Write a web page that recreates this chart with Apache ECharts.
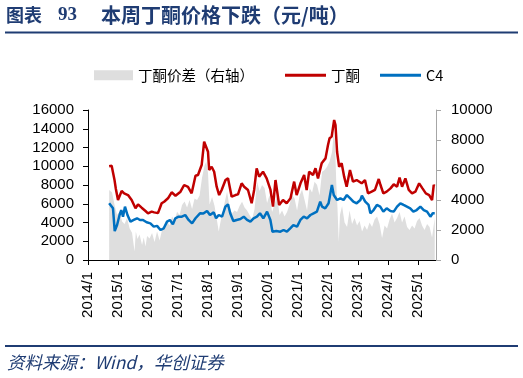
<!DOCTYPE html>
<html>
<head>
<meta charset="utf-8">
<script src="https://cdn.jsdelivr.net/npm/echarts@6/dist/echarts.min.js"></script>
<style>
html,body{margin:0;padding:0;background:#fff;}
#chart{width:523px;height:378px;}
</style>
</head>
<body>
<div id="chart"></div>
<script>
// ---- Data ----
const yearTicks = [2014,2015,2016,2017,2018,2019,2020,2021,2022,2023,2024,2025];

const ketoneDates = ['2014-09-15','2014-10-15','2014-11-01','2014-11-20','2014-12-05','2015-01-01','2015-02-15','2015-03-15','2015-05-01','2015-06-15','2015-08-01','2015-09-01','2015-10-15','2015-12-01','2016-01-01','2016-02-15','2016-03-15','2016-05-01','2016-06-15','2016-07-15','2016-09-01','2016-10-15','2016-12-01','2017-02-01','2017-03-15','2017-05-01','2017-06-15','2017-08-01','2017-09-01','2017-10-15','2017-11-15','2017-12-01','2018-01-01','2018-01-15','2018-02-15','2018-03-15','2018-04-15','2018-05-15','2018-06-15','2018-08-01','2018-09-01','2018-10-15','2018-12-01','2019-01-01','2019-02-15','2019-03-15','2019-05-01','2019-06-15','2019-07-15','2019-08-15','2019-09-15','2019-11-01','2019-12-15','2020-02-01','2020-03-01','2020-04-01','2020-05-15','2020-07-01','2020-08-15','2020-10-01','2020-11-15','2020-12-15','2021-02-01','2021-03-15','2021-04-15','2021-05-15','2021-07-01','2021-08-01','2021-09-01','2021-10-15','2021-12-01','2022-01-01','2022-01-20','2022-02-15','2022-03-15','2022-04-01','2022-04-20','2022-05-15','2022-06-15','2022-07-15','2022-08-15','2022-09-25','2022-11-01','2022-12-15','2023-02-15','2023-03-25','2023-05-01','2023-06-15','2023-07-25','2023-09-10','2023-10-01','2023-11-05','2023-12-15','2024-02-01','2024-03-10','2024-04-20','2024-05-20','2024-06-20','2024-07-30','2024-09-10','2024-10-20','2024-11-30','2025-01-15','2025-02-25','2025-04-05','2025-05-15','2025-06-20','2025-07-10','2025-07-20'];
const ketoneValues = [10000,10050,9950,8500,7600,6400,7360,7110,6930,6400,5510,5940,5580,5230,4980,5160,5080,5000,6050,6220,6580,7220,6860,7290,8000,7800,7110,8990,9070,10130,12620,12800,11550,9600,9950,9420,7820,6930,7470,8530,8710,6750,6930,7000,8180,7820,7470,6050,7470,9780,8890,9420,8710,7470,5690,8530,5870,6400,6050,6580,8360,6930,8180,9070,7470,9420,9070,9780,8710,10310,10840,12270,12980,13160,14930,14400,11550,9950,10310,8890,7820,9600,8360,8530,8180,8530,7110,7290,7470,8640,8000,7110,7290,7640,8070,7820,8780,7820,8710,7470,7110,7290,8180,7640,7110,6930,6400,8000,7900];

const c4Dates = ['2014-09-15','2014-11-01','2014-11-22','2014-12-20','2015-01-20','2015-02-10','2015-03-01','2015-03-25','2015-04-25','2015-06-01','2015-07-10','2015-08-20','2015-09-25','2015-11-01','2015-12-15','2016-01-30','2016-03-10','2016-04-20','2016-06-01','2016-07-10','2016-08-20','2016-09-25','2016-10-30','2016-11-30','2017-01-08','2017-02-18','2017-03-28','2017-05-08','2017-06-20','2017-08-01','2017-09-25','2017-11-05','2017-12-20','2018-01-25','2018-03-10','2018-04-08','2018-05-10','2018-06-20','2018-07-30','2018-09-01','2018-09-28','2018-11-05','2018-12-15','2019-01-30','2019-03-10','2019-04-20','2019-05-30','2019-07-08','2019-08-18','2019-09-25','2019-11-05','2019-12-20','2020-01-30','2020-02-25','2020-03-10','2020-04-10','2020-05-30','2020-07-08','2020-08-18','2020-09-28','2020-11-05','2020-12-20','2021-01-30','2021-03-10','2021-04-20','2021-05-30','2021-07-08','2021-08-18','2021-09-28','2021-10-20','2021-11-28','2022-01-08','2022-02-18','2022-03-10','2022-04-20','2022-05-30','2022-07-08','2022-08-18','2022-09-28','2022-11-05','2022-12-15','2023-01-30','2023-02-18','2023-03-28','2023-05-08','2023-05-30','2023-07-08','2023-08-18','2023-09-28','2023-11-05','2023-12-15','2024-01-30','2024-03-10','2024-04-20','2024-05-30','2024-07-08','2024-08-18','2024-09-28','2024-11-05','2024-12-15','2025-01-30','2025-03-10','2025-04-20','2025-05-30','2025-06-28','2025-07-22'];
const c4Values = [6050,5510,3090,3730,4800,5330,4620,5690,4800,4090,4270,4450,4270,4270,4020,3910,3560,3640,3200,3380,4090,4270,3800,4450,4620,4620,4800,4270,3910,4450,4980,4950,5230,4800,5080,4450,4800,4620,5690,5940,4980,4160,4270,4370,4620,4270,4090,4450,4620,4980,4450,5160,4270,3020,2840,3090,3020,3200,3020,3380,3730,3560,4270,4620,4450,4800,4980,5160,6220,5690,5510,6050,8000,6930,6400,6580,6400,6930,6580,6220,6050,6400,6860,6220,5870,4980,5330,5870,5690,5160,5510,5230,5160,5690,6050,5870,5690,5510,5160,5330,5690,5330,5160,4620,4980,4980];

const spreadDates = ['2014-09-15','2014-10-20','2014-11-20','2014-12-20','2015-01-20','2015-02-20','2015-03-20','2015-04-20','2015-05-20','2015-06-20','2015-07-20','2015-08-05','2015-08-25','2015-09-20','2015-10-20','2015-11-10','2015-12-01','2015-12-20','2016-01-20','2016-02-20','2016-03-20','2016-04-20','2016-05-20','2016-06-20','2016-07-20','2016-08-20','2016-09-20','2016-10-20','2016-11-20','2016-12-20','2017-01-20','2017-02-20','2017-03-20','2017-04-20','2017-05-20','2017-06-20','2017-07-20','2017-08-20','2017-09-20','2017-10-20','2017-11-20','2017-12-10','2018-01-01','2018-01-20','2018-02-20','2018-03-20','2018-04-20','2018-05-10','2018-05-30','2018-06-20','2018-07-20','2018-08-20','2018-09-20','2018-10-20','2018-11-20','2018-12-20','2019-01-20','2019-02-20','2019-03-20','2019-04-20','2019-05-20','2019-06-20','2019-07-20','2019-08-20','2019-09-20','2019-10-20','2019-11-20','2019-12-20','2020-01-20','2020-02-20','2020-03-20','2020-04-20','2020-05-20','2020-06-20','2020-07-20','2020-08-20','2020-09-20','2020-10-20','2020-11-20','2020-12-20','2021-01-20','2021-02-20','2021-03-20','2021-04-20','2021-05-20','2021-06-20','2021-07-20','2021-08-20','2021-09-20','2021-10-20','2021-11-20','2021-12-20','2022-01-20','2022-02-20','2022-03-10','2022-03-25','2022-04-10','2022-04-25','2022-05-10','2022-05-25','2022-06-20','2022-07-20','2022-08-20','2022-09-20','2022-10-20','2022-11-20','2022-12-20','2023-01-20','2023-02-20','2023-03-20','2023-04-20','2023-05-20','2023-06-20','2023-07-20','2023-08-20','2023-09-20','2023-10-20','2023-11-20','2023-12-20','2024-01-20','2024-02-20','2024-03-20','2024-04-20','2024-05-20','2024-06-20','2024-07-20','2024-08-20','2024-09-20','2024-10-20','2024-11-20','2024-12-20','2025-01-20','2025-02-20','2025-03-20','2025-04-20','2025-05-20','2025-06-20','2025-07-22'];
const spreadValues = [4670,4500,3670,3000,3220,2560,2400,2800,2110,1800,560,1900,1400,1700,1000,1500,900,1600,1440,1800,1200,1900,1300,2000,2300,2560,2300,2900,2600,3220,3000,3670,3900,3500,4000,3400,4100,4000,4300,5500,6300,6550,5800,3700,4200,3600,2600,1900,2500,3000,3800,4550,3500,3100,3300,3200,3600,3890,3500,3300,3000,2700,3400,5220,4600,5000,4800,3800,4330,3200,3700,4300,3000,3300,2900,3200,3700,4330,4100,3300,4300,4700,4000,3300,4800,4500,5220,5000,4300,5890,6000,6220,6560,7200,8500,7900,5200,3500,1200,3000,3600,2500,2200,3300,2400,2800,2300,2600,1900,2300,2000,2500,2200,2700,2900,2400,1470,2300,2100,2700,3100,2500,2800,3200,2500,2900,2200,2000,2300,2100,2600,2800,2300,2000,2400,2200,1500,2800];

// ---- helpers ----
function toYear(s){
  const p = s.split('-').map(Number);
  return p[0] + (p[1]-1)/12 + (p[2]-1)/365;
}
function pairs(dates, vals){ return dates.map((d,i)=>[toYear(d), vals[i]]); }

const navy = '#1F3C73';
const chart = echarts.init(document.getElementById('chart'), null, {renderer:'canvas'});
const labelFont = {fontFamily:'Liberation Sans, Arial', fontSize:15, color:'#000'};

chart.setOption({
  animation:false,
  backgroundColor:'#fff',
  graphic:[
    {type:'text', left:6, top:6, style:{text:'图表', font:'bold 18px "Noto Sans CJK SC"', fill:navy}},
    {type:'text', left:58, top:6, style:{text:'93', font:'bold 19px "Liberation Serif"', fill:navy}},
    {type:'text', left:101, top:5, style:{text:'本周丁酮价格下跌（元/吨）', font:'bold 20px "Noto Sans CJK SC"', fill:navy}},
    {type:'rect', shape:{x:5, y:31.5, width:513, height:2}, style:{fill:navy}},
    {type:'rect', shape:{x:5, y:345, width:513, height:2}, style:{fill:navy}},
    {type:'text', left:7, top:354, style:{text:'资料来源：Wind，华创证券', font:'italic 17.5px "Noto Sans CJK SC"', fill:navy}}
  ],
  legend:[
    {data:['丁酮价差（右轴）'], left:89, top:63, icon:'rect', itemWidth:39, itemHeight:10, itemGap:20,
     textStyle:{fontFamily:'Noto Sans CJK SC', fontSize:14.5, color:'#000'}},
    {data:['丁酮','C4'], left:280, top:63, icon:'rect', itemWidth:41, itemHeight:3, itemGap:20,
     textStyle:{fontFamily:'Noto Sans CJK SC', fontSize:14.5, color:'#000'}}
  ],
  grid:{left:88, right:87, top:110, bottom:118},
  xAxis:{
    type:'value', min:2014, max:2025.6,
    axisLine:{lineStyle:{color:'#000', width:1}},
    axisTick:{show:true, length:5, inside:false, customValues:yearTicks, lineStyle:{color:'#000'}},
    axisLabel:Object.assign({rotate:90, margin:12, customValues:yearTicks, formatter:function(v){return v+'/1';}}, labelFont),
    splitLine:{show:false}
  },
  yAxis:[
    {type:'value', min:0, max:16000, interval:2000, position:'left',
     axisLine:{show:true, lineStyle:{color:'#000'}},
     axisTick:{show:true, length:5, lineStyle:{color:'#000'}},
     axisLabel:Object.assign({margin:14, formatter:function(v){return String(v);}}, labelFont),
     splitLine:{show:false}},
    {type:'value', min:0, max:10000, interval:2000, position:'right',
     axisLine:{show:true, lineStyle:{color:'#A6A6A6'}},
     axisTick:{show:true, length:5, lineStyle:{color:'#A6A6A6'}},
     axisLabel:Object.assign({margin:15, formatter:function(v){return String(v);}}, labelFont),
     splitLine:{show:false}}
  ],
  series:[
    {name:'丁酮价差（右轴）', type:'line', yAxisIndex:1, data:pairs(spreadDates, spreadValues),
     symbol:'none', lineStyle:{width:0}, itemStyle:{color:'#DEDEDE'}, areaStyle:{color:'#DEDEDE', opacity:1}},
    {name:'丁酮', type:'line', yAxisIndex:0, data:pairs(ketoneDates, ketoneValues),
     symbol:'none', lineStyle:{width:2.5, color:'#C00000'}, itemStyle:{color:'#C00000'}},
    {name:'C4', type:'line', yAxisIndex:0, data:pairs(c4Dates, c4Values),
     symbol:'none', lineStyle:{width:2.5, color:'#0070C0'}, itemStyle:{color:'#0070C0'}}
  ]
});
</script>
</body>
</html>
